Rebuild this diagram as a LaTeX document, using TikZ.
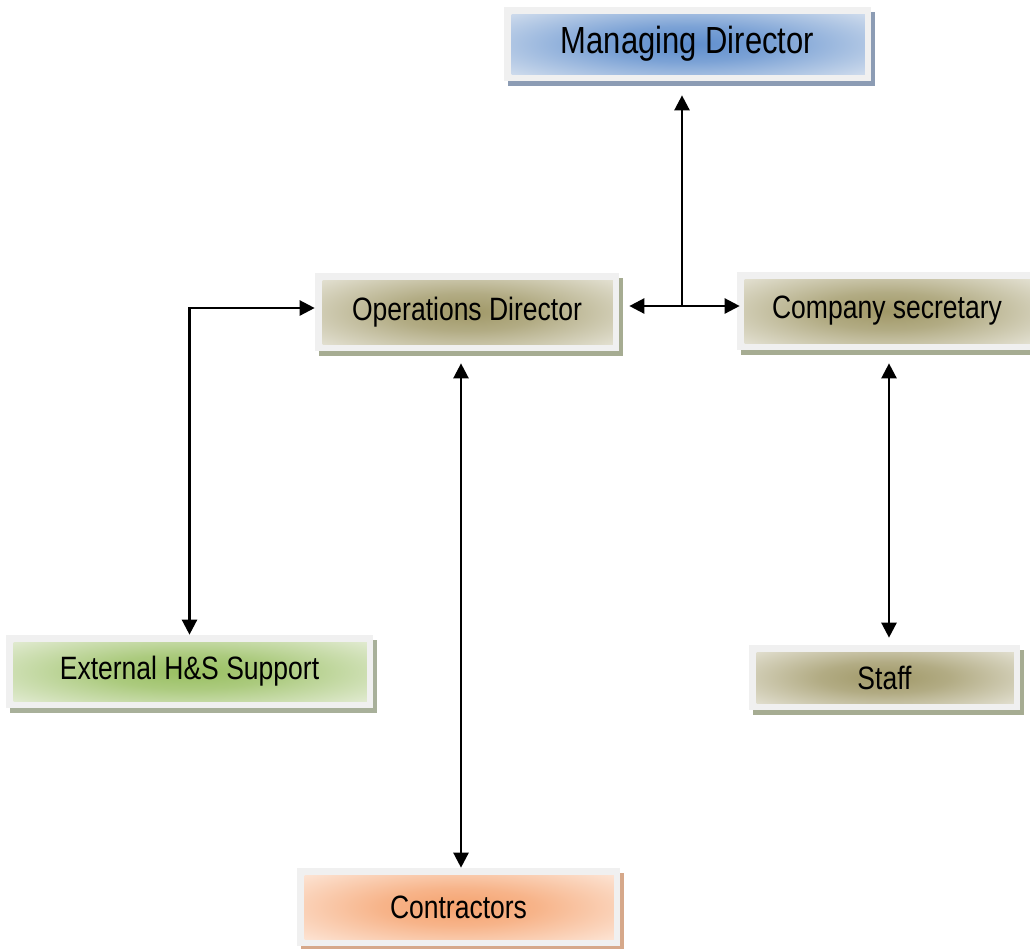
\documentclass[tikz,border=0pt]{standalone}
\usepackage{fontspec}
\setmainfont{Liberation Sans}[FakeStretch=0.82]
\usepackage{tikz}
\usetikzlibrary{positioning,shadows,arrows.meta}

\definecolor{frame}{HTML}{F0F0F0}
\definecolor{blueEdge}{HTML}{D8E2EF}
\definecolor{blueMid}{HTML}{5D8DCD}
\definecolor{blueShadow}{HTML}{8C9CB4}
\definecolor{khakiEdge}{HTML}{E8E6DA}
\definecolor{khakiMid}{HTML}{A09867}
\definecolor{khakiShadow}{HTML}{A6AC92}
\definecolor{greenEdge}{HTML}{E7EEDA}
\definecolor{greenMid}{HTML}{98BF60}
\definecolor{greenShadow}{HTML}{A8B09A}
\definecolor{orangeEdge}{HTML}{FDE9DC}
\definecolor{orangeMid}{HTML}{F5A26E}
\definecolor{orangeShadow}{HTML}{D6A88A}

\pgfdeclareradialshading{blueglow}{\pgfpoint{0bp}{0bp}}{color(0bp)=(blueMid); color(12bp)=(blueMid!75!blueEdge); color(34bp)=(blueEdge); color(50bp)=(blueEdge)}
\pgfdeclareradialshading{khakiglow}{\pgfpoint{0bp}{0bp}}{color(0bp)=(khakiMid); color(12bp)=(khakiMid!75!khakiEdge); color(34bp)=(khakiEdge); color(50bp)=(khakiEdge)}
\pgfdeclareradialshading{greenglow}{\pgfpoint{0bp}{0bp}}{color(0bp)=(greenMid); color(12bp)=(greenMid!75!greenEdge); color(34bp)=(greenEdge); color(50bp)=(greenEdge)}
\pgfdeclareradialshading{orangeglow}{\pgfpoint{0bp}{0bp}}{color(0bp)=(orangeMid); color(12bp)=(orangeMid!75!orangeEdge); color(34bp)=(orangeEdge); color(50bp)=(orangeEdge)}

\tikzset {
    box/.style={
        rectangle, % Set the shape as a rectangle
        fill=frame,
        inner sep=0pt,
        align=center,
        font=\fontsize{18.4}{22}\selectfont,
    },
    glow/.style 2 args={
        drop shadow={shadow xshift=0.08cm, shadow yshift=-0.1cm, fill=#2, opacity=1},
        path picture={
            \shade[shading=#1]
                ([shift={(0.15cm,-0.15cm)}]path picture bounding box.north west)
                rectangle ([shift={(-0.12cm,0.14cm)}]path picture bounding box.south east);
        },
    },
    link/.style={
        line width=1.4pt,
        >={Triangle[length=0.3cm, width=0.3cm]},
    },
}

\begin{document}
\begin{tikzpicture}[x=0.02cm, y=-0.02cm]
    \useasboundingbox (0,0) rectangle (1030,948);

    \node[box, glow={blueglow}{blueShadow}, minimum width=7.34cm, minimum height=1.48cm,
        font=\fontsize{21.5}{25}\selectfont] at (687.5, 44) (md) {Managing Director};
    \node[box, glow={khakiglow}{khakiShadow}, minimum width=6.08cm, minimum height=1.56cm] at (467, 312) (od) {Operations Director};
    \node[box, glow={khakiglow}{khakiShadow}, minimum width=6.0cm, minimum height=1.56cm] at (887, 311) (cs) {Company secretary};
    \node[box, glow={greenglow}{greenShadow}, minimum width=7.34cm, minimum height=1.46cm] at (189.5, 671.5) (ehs) {External H\&S Support};
    \node[box, glow={khakiglow}{khakiShadow}, minimum width=5.42cm, minimum height=1.3cm] at (884.5, 677.5) (staff) {Staff};
    \node[box, glow={orangeglow}{orangeShadow}, minimum width=6.46cm, minimum height=1.56cm] at (458.5, 907) (con) {Contractors};

    \coordinate (jn) at (682, 306);

    \draw[link, ->, shorten >=0.28cm] (jn) -- (md.south -| jn);
    \draw[link, <->, shorten <=0.2cm, shorten >=-0.06cm] (od.east |- jn) -- (cs.west |- jn);
    \draw[link, <->] ([yshift=0.08cm]od.west) -| (ehs.north);
    \draw[link, <->, shorten <=0.24cm] ([xshift=-0.12cm]od.south) -- ([xshift=-0.12cm]od.south |- con.north);
    \draw[link, <->, shorten <=0.26cm, shorten >=0.14cm] ([xshift=0.04cm]cs.south) -- ([xshift=0.04cm]cs.south |- staff.north);
\end{tikzpicture}
\end{document}
